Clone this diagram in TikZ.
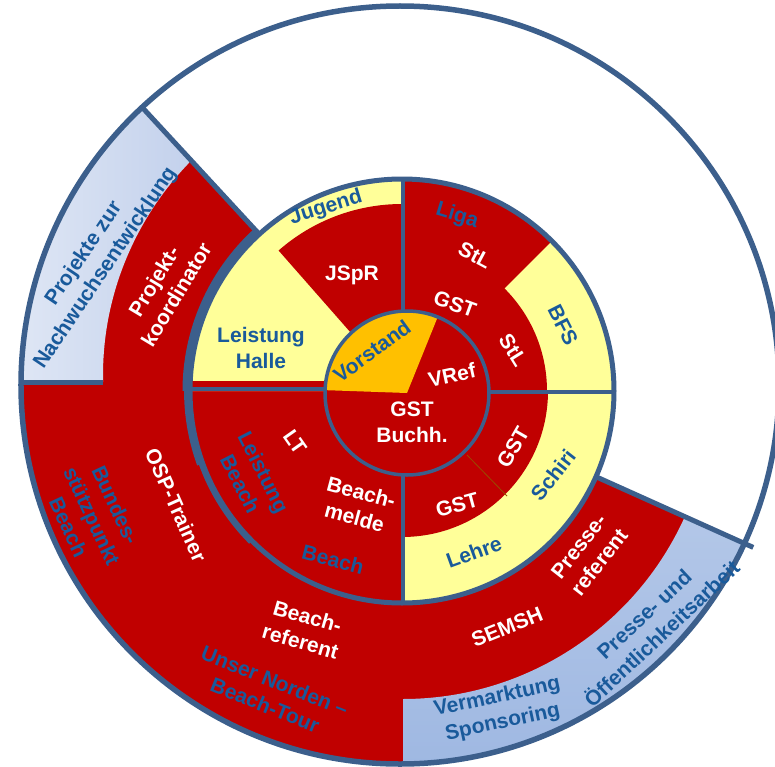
\documentclass[tikz,border=0pt]{standalone}
\usepackage{fontspec}
\setmainfont{Liberation Sans}
\definecolor{ured}{HTML}{C00000}
\definecolor{ublue}{RGB}{60,95,140}
\definecolor{uyellow}{HTML}{FFFF99}
\definecolor{uorange}{HTML}{FFC000}
\definecolor{utext}{RGB}{25,90,155}
\definecolor{lbA}{HTML}{E6ECF7}
\definecolor{lbB}{HTML}{C3D1EC}
\definecolor{lbC}{HTML}{B3C7E8}
\definecolor{lbD}{HTML}{98B3E0}
\newcommand{\lblfont}{\bfseries\fontsize{21}{26}\selectfont}
\tikzset{
  bline/.style={draw=ublue, line width=5pt},
  qline/.style={draw=ublue, line width=4.5pt},
  wt/.style={text=white, font=\lblfont, align=center, inner sep=0pt},
  bt/.style={text=utext, font=\lblfont, align=center, inner sep=0pt},
}
\begin{document}
\begin{tikzpicture}[x=1pt,y=1pt]
\useasboundingbox (-403,-376) rectangle (372,390);

% outer disk
\fill[white] (-3,5) circle (379);
\begin{scope}
  \clip (-3,5) circle (379);
  \fill[ured] (0,0) -- (132.7:520) arc[start angle=132.7, end angle=335.8, radius=520] -- cycle;
  \shade[left color=lbA, right color=lbB]
    (-300,8) -- (-430,8) -- (132.7:480) -- (132.7:312.5) -- (133.8:311.9)
    -- plot[domain=133.8:178.5, samples=40] (\x:{311.9-(\x-133.8)*11.9/44.7}) -- cycle;
  \shade[top color=lbC, bottom color=lbD]
    (0,-309) -- (0,-460) -- (-24.2:520) -- (-24.2:309)
    arc[start angle=-24.2, end angle=-90, radius=309] -- cycle;
\end{scope}

% separators of the outer ring
\draw[bline] (132.7:214) -- (132.7:384);
\draw[bline] (-24.2:212) -- (-24.2:384);
\draw[bline] (-300,8) -- (-384,8);

% middle ring
\begin{scope}[shift={(-1,-1)}]
  \fill[ured] (0,0) circle (212);
  \fill[uyellow] (0,0) -- (90:212) arc[start angle=90, end angle=180, radius=212] -- cycle;
  \fill[ured] (0,0) -- (90:187) arc[start angle=90, end angle=131.3, radius=187] -- cycle;
  \fill[uyellow] (0,0) -- (0:212) arc[start angle=0, end angle=45, radius=212] -- cycle;
  \fill[ured] (0,0) -- (0:145) arc[start angle=0, end angle=90, radius=145] -- cycle;
  \fill[uyellow] (0,0) -- (-90:212) arc[start angle=-90, end angle=0, radius=212] -- cycle;
  \fill[ured] (0,0) -- (-90:146) arc[start angle=-90, end angle=0, radius=146] -- cycle;
\end{scope}
\fill[ured] (-212,2) rectangle (-60,9);
\draw[ublue, line width=5pt] (-1,-1) circle (212);
\draw[ublue, line width=8pt] ([shift={(-1,-1)}]132.7:215.5) arc[start angle=132.7, end angle=180, radius=215.5];
\draw[ublue, line width=6.5pt] ([shift={(-1,-1)}]175:214.7) arc[start angle=175, end angle=200, radius=214.7];
\draw[ublue, line width=5.5pt] ([shift={(-1,-1)}]195:213.3) arc[start angle=195, end angle=225, radius=213.3];

% quadrant lines
\draw[qline] (0,75) -- (0,212);
\draw[qline] (0,-80) -- (0,-213);
\draw[qline] (-75,1) -- (-213,1);
\draw[qline] (80,-2) -- (211,-2);

% thin divider
\draw[draw=orange!60!black, line width=0.8pt] (64,-65) -- (104,-106);

% inner circle
\begin{scope}[shift={(4,-3)}]
  \fill[ured] (0,0) circle (82);
  \fill[uorange] (0,0) -- (68:82) arc[start angle=68, end angle=178, radius=82] -- cycle;
  \draw[ublue, line width=3.5pt] (0,0) circle (82);
\end{scope}

% outer border
\draw[ublue, line width=5.5pt] (-3,5) circle (379);

% labels
\node[bt, rotate=56] (nw) at (-308,129) {Projekte zur\\Nachwuchsentwicklung};
\node[wt, rotate=59] (pk) at (-238,102) {Projekt-\\koordinator};
\node[bt, rotate=17] (jug) at (-77,182) {Jugend};
\node[wt] (jspr) at (-51,115) {JSpR};
\node[bt] (lh) at (-142,42) {Leistung\\Halle};
\node[bt, rotate=-17] (liga) at (54,174) {Liga};
\node[wt, rotate=-28] (stl1) at (72,135) {StL};
\node[wt, rotate=-20] (gst1) at (52,86) {GST};
\node[wt, rotate=-58] (stl2) at (110,40) {StL};
\node[bt, rotate=-63] (bfs) at (160,65) {BFS};
\node[bt, rotate=36] (vor) at (-31,39) {Vorstand};
\node[wt, rotate=12] (vref) at (49,15) {VRef};
\node[wt] (buch) at (9,-32) {GST\\Buchh.};
\node[wt, rotate=60] (gst2) at (110,-57) {GST};
\node[wt, rotate=15] (gst3) at (54,-115) {GST};
\node[bt, rotate=52] (schiri) at (150,-85) {Schiri};
\node[bt, rotate=20] (lehre) at (71,-162) {Lehre};
\node[wt, rotate=-55] (lt) at (-108,-52) {LT};
\node[bt, rotate=-63] (lb) at (-151,-88) {Leistung\\Beach};
\node[wt, rotate=-15] (bm) at (-45,-115) {Beach-\\melde};
\node[bt, rotate=-15] (beach) at (-70,-169) {Beach};
\node[wt, rotate=-66] (osp) at (-227,-115) {OSP-Trainer};
\node[bt, rotate=-65] (bsp) at (-311,-126) {Bundes-\\stützpunkt\\Beach};
\node[wt, rotate=-16] (bref) at (-99,-239) {Beach-\\referent};
\node[bt, rotate=-22] (tour) at (-133,-303) {Unser Norden –\\Beach-Tour};
\node[wt, rotate=22] (semsh) at (104,-237) {SEMSH};
\node[wt, rotate=52] (pref) at (186,-164) {Presse-\\referent};
\node[bt, rotate=12] (verm) at (97,-320) {Vermarktung\\Sponsoring};
\node[bt, rotate=43] (oeff) at (250,-234) {Presse- und\\Öffentlichkeitsarbeit};
\end{tikzpicture}
\end{document}
